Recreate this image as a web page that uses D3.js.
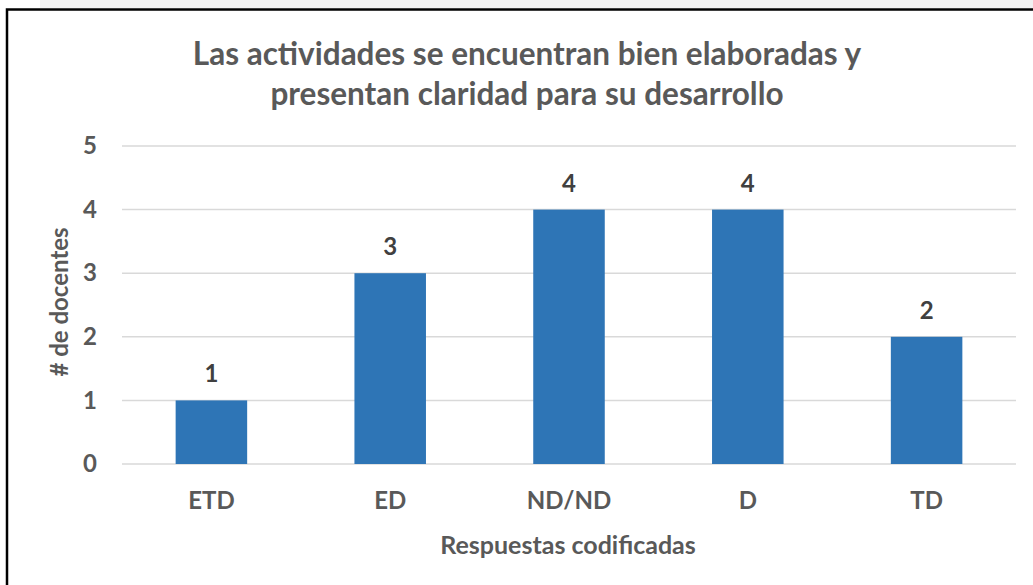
<!DOCTYPE html>
<html>
<head>
<meta charset="utf-8">
<script src="https://cdn.jsdelivr.net/npm/d3@7"></script>
<style>
  html, body { margin: 0; padding: 0; background: #fff; }
  svg { display: block; }
  text { font-family: Lato, "Open Sans", sans-serif; font-weight: bold; }
</style>
</head>
<body>
<script>
// Chart data
const categories = ["ETD", "ED", "ND/ND", "D", "TD"];
const counts = [1, 3, 4, 4, 2];
const yTicks = [0, 1, 2, 3, 4, 5];
const titleLines = ["Las actividades se encuentran bien elaboradas y", "presentan claridad para su desarrollo"];
const xTitle = "Respuestas codificadas";
const yTitle = "# de docentes";

const W = 1033, H = 585;
const svg = d3.select("body").append("svg").attr("width", W).attr("height", H);

// faint band above the frame
svg.append("rect").attr("x", 40).attr("y", 0).attr("width", W - 40).attr("height", 8).attr("fill", "#f1f1f1");

// chart frame
svg.append("rect").attr("x", 7).attr("y", 9.5).attr("width", W + 10).attr("height", H + 10)
  .attr("fill", "#fff").attr("stroke", "#000").attr("stroke-width", 2.5);

const plot = { left: 122, right: 1016, top: 146, bottom: 464 };

const x = d3.scaleBand().domain(categories).range([plot.left, plot.right]).paddingInner(0.6).paddingOuter(0.3);
const y = d3.scaleLinear().domain([0, 5]).range([plot.bottom, plot.top]);

// gridlines
svg.append("g").selectAll("line").data(yTicks).join("line")
  .attr("x1", plot.left).attr("x2", plot.right)
  .attr("y1", d => y(d)).attr("y2", d => y(d))
  .attr("stroke", "#d9d9d9").attr("stroke-width", 1.5);

// y axis tick labels
const yAxis = d3.axisLeft(y).tickValues(yTicks).tickFormat(d3.format("d")).tickSize(0).tickPadding(0);
const gy = svg.append("g").attr("transform", `translate(97,0)`).call(yAxis);
gy.select(".domain").remove();
gy.selectAll("text").attr("font-size", 24).attr("fill", "#595959")
  .attr("font-family", "Lato, 'Open Sans', sans-serif").attr("font-weight", "bold");

// bars
svg.append("g").selectAll("rect").data(categories).join("rect")
  .attr("x", d => x(d)).attr("width", x.bandwidth())
  .attr("y", (d, i) => y(counts[i]))
  .attr("height", (d, i) => y(0) - y(counts[i]))
  .attr("fill", "#2e75b6");

// value labels
svg.append("g").selectAll("text").data(categories).join("text")
  .attr("x", d => x(d) + x.bandwidth() / 2)
  .attr("y", (d, i) => y(counts[i]) - 18)
  .attr("text-anchor", "middle").attr("font-size", 24).attr("fill", "#404040")
  .text((d, i) => counts[i]);

// x axis labels
const xAxis = d3.axisBottom(x).tickSize(0).tickPadding(0);
const gx = svg.append("g").attr("transform", `translate(0,492)`).call(xAxis);
gx.select(".domain").remove();
gx.selectAll("text").attr("font-size", 24).attr("fill", "#595959").attr("dy", "0.71em")
  .attr("font-family", "Lato, 'Open Sans', sans-serif").attr("font-weight", "bold");

// title
const title = svg.append("g");
titleLines.forEach((t, i) => {
  title.append("text").attr("x", 527).attr("y", 65 + i * 40)
    .attr("text-anchor", "middle").attr("font-size", 31.5).attr("fill", "#595959").text(t);
});

// axis titles
svg.append("text").attr("x", 568).attr("y", 554).attr("text-anchor", "middle")
  .attr("font-size", 25).attr("fill", "#595959").text(xTitle);
svg.append("text").attr("transform", "translate(68,302) rotate(-90)").attr("text-anchor", "middle")
  .attr("font-size", 24).attr("fill", "#595959").text(yTitle);
</script>
</body>
</html>
